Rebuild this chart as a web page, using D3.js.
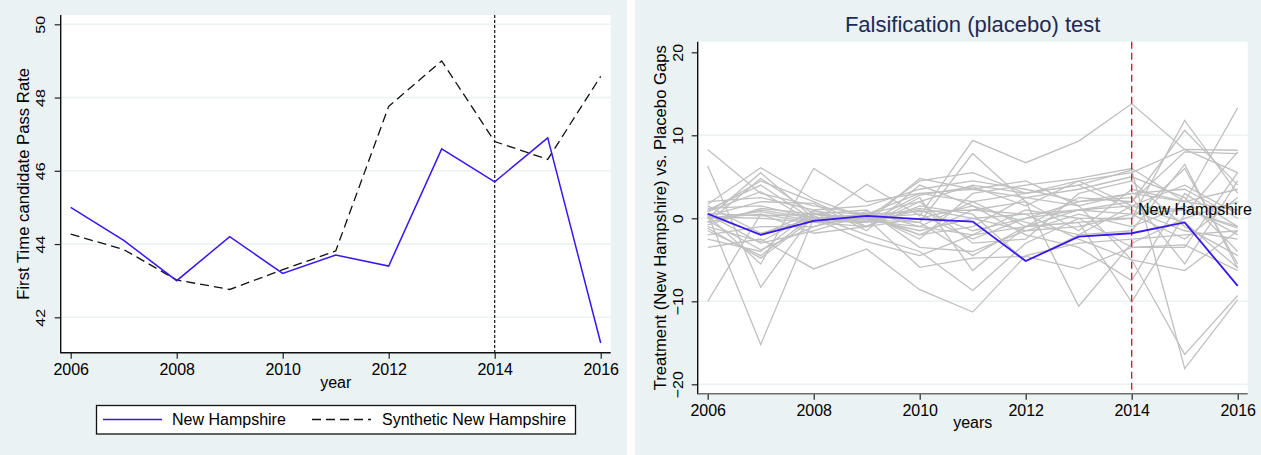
<!DOCTYPE html>
<html>
<head>
<meta charset="utf-8">
<script src="https://cdn.jsdelivr.net/npm/d3@7"></script>
<style>
  body { margin: 0; background: #ffffff; }
  text { font-family: "Liberation Sans", Arial, sans-serif; }
</style>
</head>
<body>
<div id="chart"></div>
<script>
// ---- data ----
const years = [2006, 2007, 2008, 2009, 2010, 2011, 2012, 2013, 2014, 2015, 2016];
const yearTicks = [2006, 2008, 2010, 2012, 2014, 2016];
const treatYear = 2014;

const nhRate    = [45.0, 44.1, 43.0, 44.2, 43.2, 43.7, 43.4, 46.6, 45.7, 46.9, 41.3];
const synthRate = [44.27, 43.85, 43.02, 42.76, 43.3, 43.81, 47.76, 49.0, 46.8, 46.31, 48.58];
const rateTicks = [42, 44, 46, 48, 50];

const nhGap = [0.55, -2.0, -0.3, 0.28, -0.1, -0.4, -5.15, -2.2, -1.8, -0.5, -8.15];
const gapTicks = [-20, -10, 0, 10, 20];
const placeboGaps = [
  [8.3, 3.0, 1.5, 0.5, 2.0, 4.0, 3.0, 4.5, 5.5, 8.3, 8.2],
  [6.3, -8.3, 0.5, -0.5, 1.0, -1.5, 0.0, 2.0, 3.0, 2.0, 1.0],
  [-10.0, 0.5, -0.5, -0.3, -1.0, -2.0, -1.0, -0.5, 0.0, 6.0, -5.5],
  [1.7, 6.1, 2.3, 0.0, -5.9, -4.8, -4.6, -6.1, -3.5, -3.2, -6.3],
  [0.5, -15.2, 0.0, 0.5, 0.8, 1.0, 0.5, 1.0, 1.5, 1.0, -1.0],
  [0.0, 5.5, 0.0, -0.5, 4.8, 3.5, 4.5, 1.5, -5.0, -16.4, -9.3],
  [-0.5, 4.8, 0.5, 0.0, 4.5, 5.5, 3.0, 4.0, 5.8, -18.1, -9.8],
  [0.3, -5.5, 6.0, 2.0, 3.0, 2.0, -1.0, 2.5, 2.0, 10.6, 4.0],
  [-3.5, -2.5, -6.1, -3.7, -8.6, -11.3, -4.5, -3.0, -2.5, -2.0, -1.5],
  [0.8, 3.2, -0.5, 4.1, 0.3, 9.4, 6.7, 9.3, 13.8, 8.3, 5.5],
  [1.0, 4.0, -0.2, 0.5, -0.5, 7.8, 2.0, -10.6, -3.0, 0.0, 2.0],
  [-1.5, -4.5, 0.3, -2.0, -4.0, -8.7, -3.0, 0.0, 0.0, 11.8, 3.0],
  [2.0, 2.5, 1.0, -1.0, 2.5, -6.3, -1.0, -0.5, -10.1, 0.5, 8.0],
  [0.5, -3.0, -1.5, 0.5, -2.5, 3.0, 4.0, 4.8, 6.0, 2.0, 13.3],
  [-2.5, -4.0, 1.0, 1.5, 3.5, 4.5, 3.5, 2.0, 2.5, -5.5, 4.5],
  [0.2, 0.0, -0.5, -1.0, 1.5, 0.5, -5.2, -2.0, -1.5, 6.5, -6.0],
  [1.2, 1.5, 0.0, 0.2, -2.0, -1.0, 2.5, 3.5, 5.0, 2.5, -4.0],
  [-1.0, -2.8, 0.5, 0.0, -1.5, 0.0, 0.5, -2.5, -5.0, -6.3, -1.5],
  [0.0, 0.8, -0.3, -0.5, 2.8, 3.8, 1.5, 4.5, 1.5, 4.0, 0.5],
  [-0.8, 1.2, 0.5, 1.0, -3.5, -4.0, -1.5, -1.0, 0.5, -2.5, 2.5],
  [0.3, 2.0, 1.8, -1.5, 4.0, 1.5, -2.0, -3.5, -7.5, 3.0, -1.0],
  [1.5, -1.8, 0.0, 0.0, 0.5, -2.5, 0.0, 1.0, 2.0, 8.0, 7.8],
  [-2.0, -1.0, -1.0, 0.8, -1.0, 2.0, 3.0, 4.0, 1.0, -1.5, -2.5],
  [0.6, 0.3, 0.5, 0.0, 1.2, 0.0, -1.5, 0.5, -1.0, 1.5, -2.0],
  [-0.3, -3.8, -1.0, 0.5, -2.0, 1.0, 2.0, -1.5, 3.5, 2.0, 3.5],
  [0.8, 4.5, 2.0, -1.0, 2.0, -3.0, -2.5, 3.0, 4.5, -1.0, -4.5],
  [-1.2, -4.8, 0.0, -2.8, -4.5, -2.0, 1.0, 0.0, -3.5, -3.5, 5.5],
  [0.0, 0.5, -1.8, -1.0, 0.0, 1.5, -0.5, -2.0, 1.5, -0.5, -6.0],
  [0.4, -2.0, 0.8, 0.5, 3.0, 3.5, 2.5, 1.5, 3.0, 3.5, 0.0],
  [-0.5, 1.0, 0.0, -0.2, -0.5, -4.5, -1.0, 1.0, 0.5, 1.0, -1.2]
];

// ---- setup ----
const width = 1261, height = 455;
const bg = '#eaf2f3', blue = '#3c14f0', grid = '#eaf2f3';

const svg = d3.select('#chart').append('svg')
  .attr('width', width).attr('height', height)
  .attr('viewBox', `0 0 ${width} ${height}`);

svg.append('rect').attr('x', 0).attr('y', 0).attr('width', 627).attr('height', height).attr('fill', bg);
svg.append('rect').attr('x', 635).attr('y', 0).attr('width', width - 635).attr('height', height).attr('fill', bg);

// draws plot region, grid, axes; returns scales
function panel(box, xRange, yDomain, yRange, yTicks, gridTicks, opt) {
  const x = d3.scaleLinear().domain([2006, 2016]).range(xRange);
  const y = d3.scaleLinear().domain(yDomain).range(yRange);
  const g = svg.append('g');

  g.append('rect').attr('x', box.left).attr('y', box.top)
    .attr('width', box.right - box.left).attr('height', box.bottom - box.top)
    .attr('fill', '#ffffff');

  g.append('g').selectAll('line').data(gridTicks).join('line')
    .attr('x1', box.left).attr('x2', box.right)
    .attr('y1', d => y(d)).attr('y2', d => y(d))
    .attr('stroke', grid).attr('stroke-width', 1.6);

  const yAxis = g.append('g').attr('transform', `translate(${box.left},0)`)
    .call(d3.axisLeft(y).tickValues(yTicks).tickSize(6).tickSizeOuter(0));
  yAxis.select('.domain').remove();
  yAxis.selectAll('.tick line').attr('stroke', '#222').attr('stroke-width', 1.2);
  // stata draws these rotated and a little squeezed
  yAxis.selectAll('.tick text')
    .attr('transform', `rotate(-90) scale(1,${opt.squeeze})`)
    .attr('x', 0).attr('y', -opt.labelGap / opt.squeeze).attr('dy', 0)
    .attr('text-anchor', 'middle')
    .attr('font-size', 16).attr('fill', '#000');

  const xAxis = g.append('g').attr('transform', `translate(0,${box.bottom})`)
    .call(d3.axisBottom(x).tickValues(yearTicks).tickFormat(d3.format('d')).tickSize(6).tickSizeOuter(0));
  xAxis.select('.domain').remove();
  xAxis.selectAll('.tick line').attr('stroke', '#222').attr('stroke-width', 1.2);
  xAxis.selectAll('.tick text').attr('y', 22).attr('dy', 0)
    .attr('font-size', 16).attr('fill', '#000');

  g.append('line').attr('x1', box.left).attr('x2', box.left)
    .attr('y1', box.top).attr('y2', box.bottom + 0.6)
    .attr('stroke', '#111').attr('stroke-width', 1.4);
  g.append('line').attr('x1', box.left).attr('x2', box.right)
    .attr('y1', box.bottom).attr('y2', box.bottom)
    .attr('stroke', opt.xAxisColor).attr('stroke-width', 1.6);

  const cx = (box.left + box.right) / 2;
  g.append('text').attr('x', cx).attr('y', box.bottom + opt.xTitleY)
    .attr('text-anchor', 'middle').attr('font-size', 16).text(opt.xTitle);
  g.append('text')
    .attr('transform', `translate(${box.left - 32},${(box.top + box.bottom) / 2}) rotate(-90)`)
    .attr('text-anchor', 'middle').attr('font-size', 16.7).text(opt.yTitle);

  return {x, y, g};
}

// ---- left panel: pass rate ----
const L = panel({left: 60.7, right: 610.7, top: 15, bottom: 352.7},
  [70.7, 600.7], [42, 50], [317.3, 24.3], rateTicks, rateTicks,
  {xAxisColor: '#111', xTitle: 'year', yTitle: 'First Time candidate Pass Rate',
   xTitleY: 35.5, squeeze: 0.85, labelGap: 15.5});

L.g.append('line')
  .attr('x1', L.x(treatYear)).attr('x2', L.x(treatYear))
  .attr('y1', 15).attr('y2', 352.7)
  .attr('stroke', '#111').attr('stroke-width', 1.2).attr('stroke-dasharray', '3,2');

const rateLine = d3.line().x((d, i) => L.x(years[i])).y(d => L.y(d));
L.g.append('path').datum(synthRate).attr('d', rateLine)
  .attr('fill', 'none').attr('stroke', '#111').attr('stroke-width', 1.3)
  .attr('stroke-dasharray', '9,5');
L.g.append('path').datum(nhRate).attr('d', rateLine)
  .attr('fill', 'none').attr('stroke', blue).attr('stroke-width', 1.5);

// legend
const leg = svg.append('g');
leg.append('rect').attr('x', 96.5).attr('y', 405.5).attr('width', 479).attr('height', 28.5)
  .attr('fill', '#fff').attr('stroke', '#111').attr('stroke-width', 1.3);
leg.append('line').attr('x1', 103).attr('x2', 162).attr('y1', 419.5).attr('y2', 419.5)
  .attr('stroke', blue).attr('stroke-width', 1.5);
leg.append('text').attr('x', 172).attr('y', 425).attr('font-size', 16).text('New Hampshire');
leg.append('line').attr('x1', 312).attr('x2', 371).attr('y1', 419.5).attr('y2', 419.5)
  .attr('stroke', '#111').attr('stroke-width', 1.3).attr('stroke-dasharray', '9,5');
leg.append('text').attr('x', 382).attr('y', 425).attr('font-size', 16).text('Synthetic New Hampshire');

// ---- right panel: placebo gaps ----
const R = panel({left: 697.7, right: 1247.7, top: 41.7, bottom: 393.7},
  [707.7, 1237.7], [-20, 20], [384.3, 52.3], gapTicks, [-20, -10, 0, 10],
  {xAxisColor: '#6e6e6e', xTitle: 'years', yTitle: 'Treatment (New Hampshire) vs. Placebo Gaps',
   xTitleY: 34.5, squeeze: 0.95, labelGap: 14.4});

svg.append('text').attr('x', 972.7).attr('y', 31.5)
  .attr('text-anchor', 'middle').attr('font-size', 22).attr('fill', '#1e2a55')
  .text('Falsification (placebo) test');

const gapLine = d3.line().x((d, i) => R.x(years[i])).y(d => R.y(d));
R.g.append('g').selectAll('path').data(placeboGaps).join('path')
  .attr('d', gapLine).attr('fill', 'none')
  .attr('stroke', '#c0c0c0').attr('stroke-width', 1.3);

R.g.append('line')
  .attr('x1', R.x(treatYear)).attr('x2', R.x(treatYear))
  .attr('y1', 41.7).attr('y2', 393.7)
  .attr('stroke', '#d0102e').attr('stroke-width', 1.3).attr('stroke-dasharray', '7,4');

R.g.append('path').datum(nhGap).attr('d', gapLine)
  .attr('fill', 'none').attr('stroke', blue).attr('stroke-width', 1.8);

R.g.append('text').attr('x', 1138).attr('y', 215)
  .attr('font-size', 16).attr('fill', '#000').text('New Hampshire');
</script>
</body>
</html>
